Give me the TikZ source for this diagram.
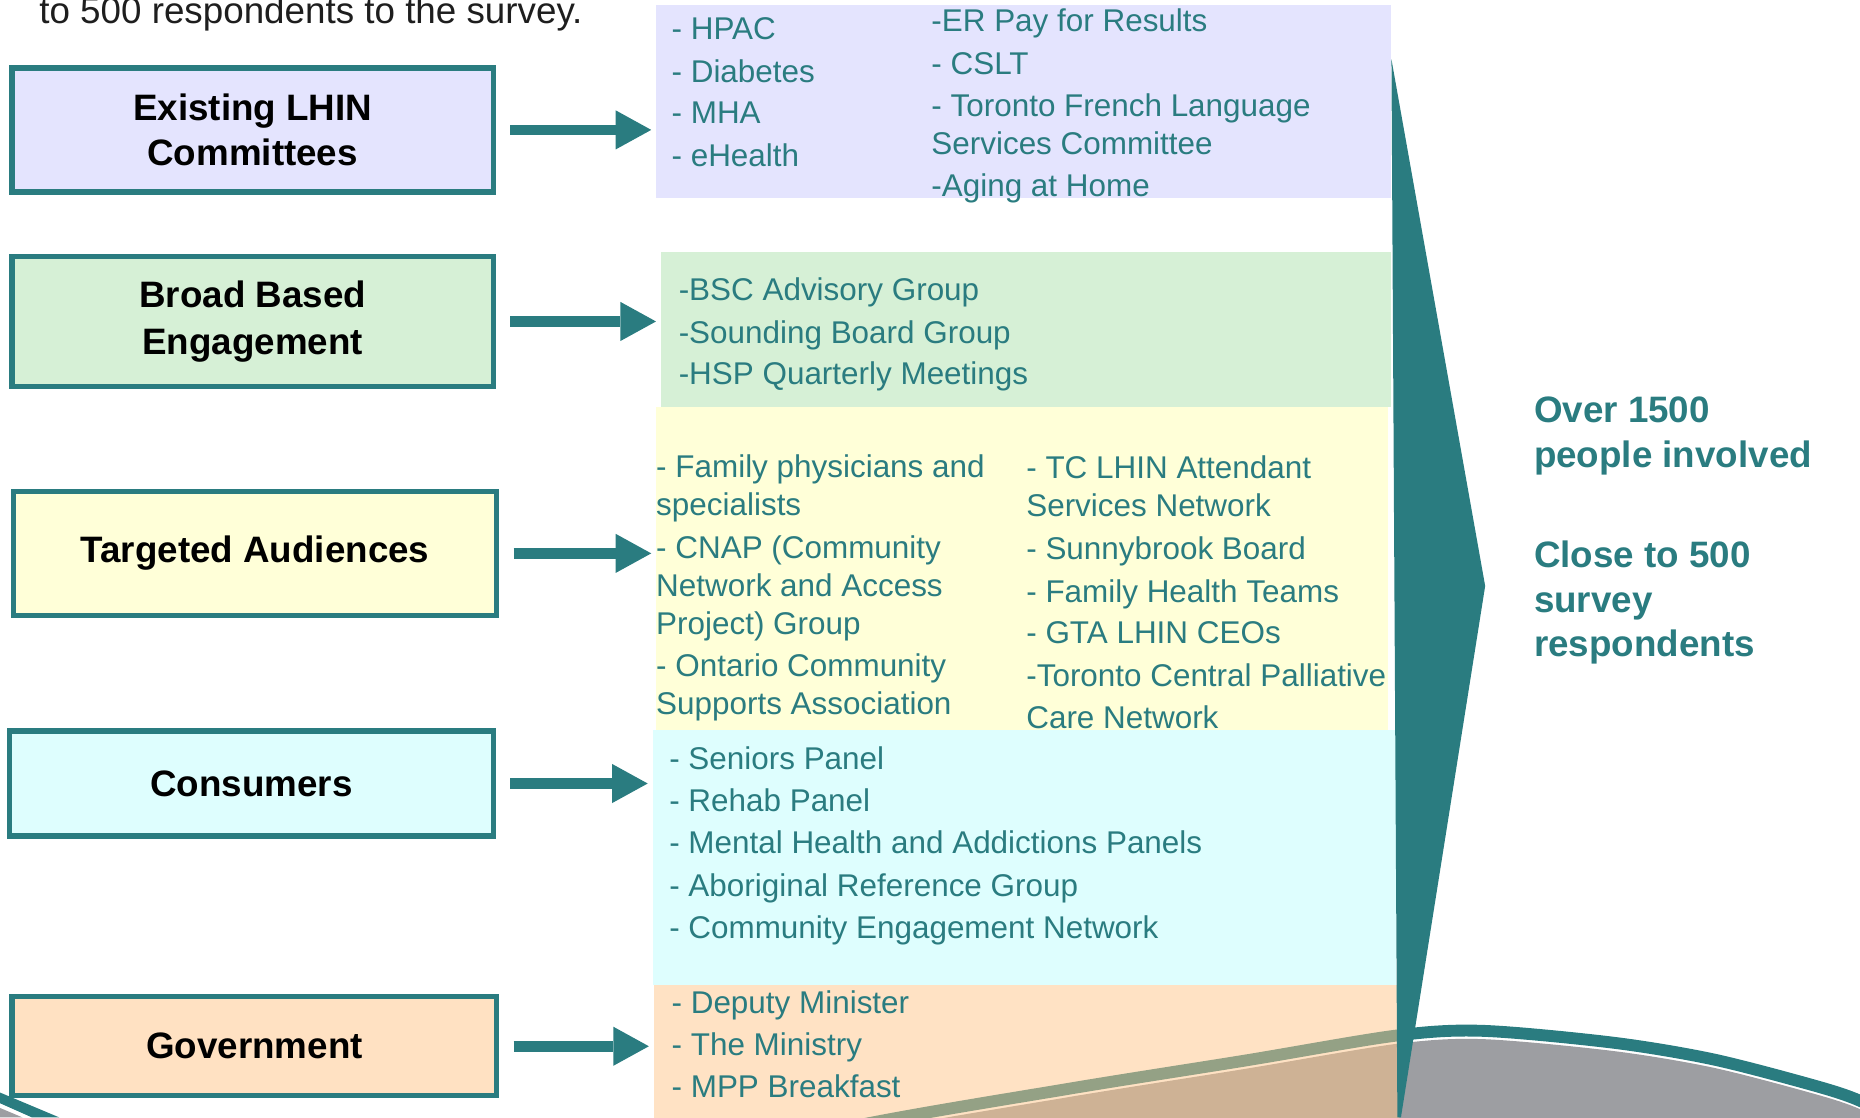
\documentclass[tikz,border=0pt]{standalone}
\usepackage{fontspec}
\setmainfont{Liberation Sans}
\usetikzlibrary{arrows.meta}
\definecolor{tealx}{RGB}{42,124,128}
\definecolor{lav}{RGB}{228,228,254}
\definecolor{mint}{RGB}{214,240,214}
\definecolor{lemon}{RGB}{255,255,216}
\definecolor{aqua}{RGB}{222,254,254}
\definecolor{peach}{RGB}{255,225,194}
\definecolor{peachbase}{RGB}{255,198,138}
\definecolor{swgray}{RGB}{157,158,162}
\definecolor{inktext}{RGB}{30,30,30}
% top edge of the grey swoosh along the bottom
\newcommand\swooshcurve{plot[smooth] coordinates {(560,985) (717,945) (900,913) (1050,889) (1177,868) (1250,864) (1360,874) (1444,888) (1529,910) (1568,923) (1610,945)}}
\begin{document}
\begin{tikzpicture}[x=1pt,y=-1pt,
  lbox/.style={draw=tealx, line width=4.5pt, align=center, inner sep=0pt,
    font=\fontsize{31}{38}\selectfont\bfseries, text=black},
  panel/.style={anchor=north west, inner sep=0pt, draw=none},
  li/.style={anchor=west, inner sep=0pt, text height=19pt, text depth=0pt,
    font=\fontsize{26.5}{32}\selectfont, text=tealx},
  big/.style={anchor=west, inner sep=0pt, text height=22.2pt, text depth=0pt,
    font=\fontsize{31}{38}\selectfont\bfseries, text=tealx},
  bigarrow/.style={draw=tealx, line width=9pt, shorten >=4pt,
    -{Triangle[length=30pt, width=33pt, line width=0pt]}}]
\useasboundingbox (0,0) rectangle (1568,942);

% grey swoosh with teal rim
\begin{scope}[yshift=-12pt]
  \fill[swgray] \swooshcurve -- (1610,980) -- (560,980) -- cycle;
\end{scope}
\begin{scope}[yshift=-5pt]
  \draw[tealx, line width=10pt] \swooshcurve;
\end{scope}
\fill[tealx] (0,921) -- (50,942) -- (27,942) -- (0,930) -- cycle;
\fill[swgray] (0,934) -- (19,942) -- (0,942) -- cycle;

% intro line
\node[anchor=base west, inner sep=0pt, font=\fontsize{31}{37}\selectfont, text=inktext] (intro) at (33,20) {to 500 respondents to the survey.};

% detail panels
\node[panel, fill=lav, minimum width=619pt, minimum height=163pt] (rp1) at (553,4) {};
\node[panel, fill=mint, minimum width=615pt, minimum height=131pt] (rp2) at (557,212) {};
\node[panel, fill=lemon, minimum width=617pt, minimum height=272pt] (rp3) at (553,343) {};
\node[panel, fill=aqua, minimum width=627pt, minimum height=215pt] (rp4) at (550,615) {};
\node[panel, fill=peachbase, fill opacity=0.5, minimum width=628pt, minimum height=112pt] (rp5) at (551,830) {};

% audience boxes
\node[lbox, fill=lav, minimum width=405.5pt, minimum height=104.5pt] (lb1) at (213,109.5) {Existing LHIN\\Committees};
\node[lbox, fill=mint, minimum width=405.5pt, minimum height=109.5pt, font=\fontsize{31}{40}\selectfont\bfseries] (lb2) at (213,271) {Broad Based\\Engagement};
\node[lbox, fill=lemon, minimum width=407.5pt, minimum height=104.5pt] (lb3) at (215,466.5) {Targeted Audiences};
\node[lbox, fill=aqua, minimum width=407.5pt, minimum height=88.5pt] (lb4) at (212,660.5) {Consumers};
\node[lbox, fill=peach, minimum width=408.5pt, minimum height=83.5pt] (lb5) at (214.5,882) {Government};

% connectors
\foreach \i in {1,...,5}
  \draw[bigarrow] ([xshift=12pt]lb\i.east) -- (lb\i.east -| rp\i.west);

% converging chevron
\fill[tealx] (1173,50) -- (1252,494) -- (1181,942) -- (1178,942) -- cycle;

% panel contents
\foreach \y/\t [count=\i] in {24/{- HPAC}, 60/{- Diabetes}, 95/{- MHA}, 131/{- eHealth}}
  \node[li] (pa\i) at (566,\y) {\t};
\foreach \y/\t [count=\i] in {17/{-ER Pay for Results}, 53/{- CSLT}, 89/{- Toronto French Language}, 121/{Services Committee}, 156/{-Aging at Home}}
  \node[li] (pb\i) at (785,\y) {\t};
\foreach \y/\t [count=\i] in {244/{-BSC Advisory Group}, 280/{-Sounding Board Group}, 315/{-HSP Quarterly Meetings}}
  \node[li] (pc\i) at (572,\y) {\t};
\foreach \y/\t [count=\i] in {393/{- Family physicians and}, 425/{specialists}, 461/{- CNAP (Community}, 493/{Network and Access}, 525/{Project) Group}, 561/{- Ontario Community}, 593/{Supports Association}}
  \node[li] (pd\i) at (553,\y) {\t};
\foreach \y/\t [count=\i] in {394/{- TC LHIN Attendant}, 426/{Services Network}, 462/{- Sunnybrook Board}, 498/{- Family Health Teams}, 533/{- GTA LHIN CEOs}, 569/{-Toronto Central Palliative}, 605/{Care Network}}
  \node[li] (pe\i) at (865,\y) {\t};
\foreach \y/\t [count=\i] in {639/{- Seniors Panel}, 675/{- Rehab Panel}, 710/{- Mental Health and Addictions Panels}, 746/{- Aboriginal Reference Group}, 782/{- Community Engagement Network}}
  \node[li] (pf\i) at (564,\y) {\t};
\foreach \y/\t [count=\i] in {845/{- Deputy Minister}, 880/{- The Ministry}, 916/{- MPP Breakfast}}
  \node[li] (pg\i) at (566,\y) {\t};

% summary
\node[big] (s1) at (1293,345) {Over 1500};
\node[big] (s2) at (1293,383) {people involved};
\node[big] (s3) at (1293,467) {Close to 500};
\node[big] (s4) at (1293,505) {survey};
\node[big] (s5) at (1293,542) {respondents};
\end{tikzpicture}
\end{document}
